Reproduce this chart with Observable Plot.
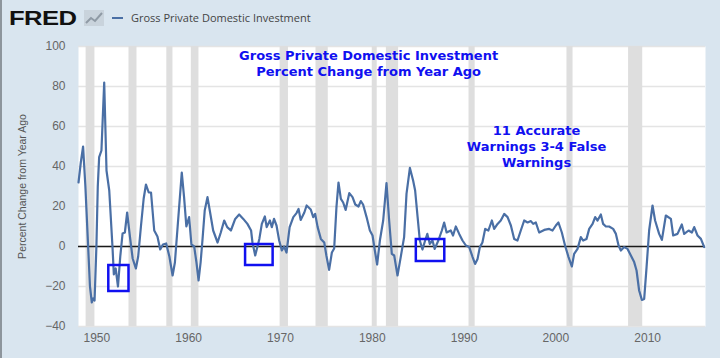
<!DOCTYPE html>
<html>
<head>
<meta charset="utf-8">
<script src="https://cdn.jsdelivr.net/npm/d3@7"></script>
<script src="https://cdn.jsdelivr.net/npm/@observablehq/plot@0.6"></script>
<style>
  html, body { margin: 0; padding: 0; }
  body { width: 720px; height: 358px; background: #d9e5ef; position: relative; overflow: hidden; font-family: "Liberation Sans", Arial, sans-serif; }
  #edge { position: absolute; left: 0; top: 0; width: 2px; height: 358px; background: #8d959c; }
  #header { position: relative; height: 36px; }
  #logo { position: absolute; left: 9px; top: 6px; font: 900 21px "Liberation Sans", Arial, sans-serif; color: #111; transform: scaleX(1.22); transform-origin: left top; letter-spacing: -0.5px; }
  #icon { position: absolute; left: 84px; top: 10px; }
  #legline { position: absolute; left: 112px; top: 17px; width: 11px; height: 2px; background: #4a6fa5; }
  #legtext { position: absolute; left: 131px; top: 10px; font: 11px "Open Sans", sans-serif; color: #444; }
  #chart { position: absolute; left: 0; top: 36px; }
</style>
</head>
<body>
<div id="edge"></div>
<div id="header">
  <div id="logo">FRED</div>
  <svg id="icon" width="20" height="16"><rect x="0" y="0" width="20" height="16" fill="#c9d3dc"/><polyline points="2,13 7,8 11,11 18,3" fill="none" stroke="#8f9aa5" stroke-width="2"/></svg>
  <div id="legline"></div>
  <div id="legtext">Gross Private Domestic Investment</div>
</div>
<div id="chart"></div>
<script>
// ---- data ----
const years = [1948.0,1948.25,1948.5,1948.75,1949.0,1949.25,1949.45,1949.6,1949.75,1949.95,1950.1,1950.25,1950.5,1950.8,1951.05,1951.35,1951.7,1951.85,1952.05,1952.3,1952.55,1952.8,1953.05,1953.3,1953.6,1953.9,1954.25,1954.5,1954.8,1955.1,1955.35,1955.65,1955.9,1956.25,1956.6,1956.9,1957.2,1957.55,1957.9,1958.25,1958.5,1958.8,1959.0,1959.25,1959.5,1959.75,1960.05,1960.3,1960.6,1960.85,1961.08,1961.3,1961.5,1961.75,1962.05,1962.3,1962.67,1963.15,1963.5,1963.87,1964.2,1964.6,1965.07,1965.5,1965.95,1966.4,1966.8,1966.95,1967.25,1967.7,1967.97,1968.3,1968.5,1968.85,1969.06,1969.3,1969.57,1969.86,1970.15,1970.4,1970.66,1971.0,1971.4,1971.75,1971.97,1972.2,1972.6,1972.85,1973.3,1973.57,1973.78,1974.05,1974.4,1974.77,1975.0,1975.3,1975.6,1975.85,1976.1,1976.32,1976.58,1976.83,1977.1,1977.5,1977.85,1978.15,1978.5,1978.75,1979.0,1979.38,1979.74,1980.03,1980.28,1980.53,1980.83,1981.19,1981.55,1981.84,1982.13,1982.39,1982.75,1983.1,1983.47,1983.73,1984.1,1984.45,1984.67,1984.94,1985.18,1985.47,1985.76,1986.0,1986.27,1986.56,1986.8,1987.2,1987.58,1987.83,1988.1,1988.55,1988.8,1989.1,1989.47,1989.83,1990.2,1990.56,1990.93,1991.2,1991.47,1991.72,1992.0,1992.3,1992.65,1993.03,1993.28,1993.65,1994.0,1994.37,1994.74,1995.1,1995.46,1995.82,1996.18,1996.55,1996.92,1997.28,1997.53,1997.82,1998.18,1998.73,1999.27,1999.64,2000.0,2000.28,2000.65,2001.0,2001.38,2001.74,2001.99,2002.36,2002.72,2002.97,2003.34,2003.63,2004.0,2004.28,2004.54,2004.9,2005.15,2005.45,2005.8,2006.24,2006.54,2006.83,2007.08,2007.44,2007.81,2008.17,2008.53,2008.79,2009.07,2009.37,2009.62,2009.88,2010.16,2010.53,2010.81,2011.25,2011.55,2011.98,2012.53,2012.78,2013.25,2013.72,2013.98,2014.46,2014.82,2015.07,2015.43,2015.8,2016.16];
const values = [32,42,50,30,5,-20,-28,-26,-27,0,30,44.7,48,82,38,28,0,-14,-11,-20,-5,6.5,7,17,5,-6,-11,-5,10,24,31,27,27,8,5,-1.5,1,1.5,-5,-14.5,-8,10,22,37,24.7,10,14.7,1,0,-8,-17,-8,3,18,24.7,18,8,2,7,13,9.7,8,13.8,16,13.8,11.3,8,2,-4.5,3.8,11.3,15,9.7,13,9.7,13.8,10.5,3,-2,0,-3,9.7,14.7,16.7,18.8,13.3,17,20.5,18.5,14.7,16.3,9.7,3.8,2,-4.5,-11.7,-3,-1,19.7,32,23.8,22,18.3,26.7,24.7,21,20,22.7,21,14.7,8,5.5,-2,-9,3,13,31.7,13,-3.7,-4.5,-14.5,-5.3,4.7,26.3,39.3,33,28,14.7,3,-1.5,3,6.3,1.3,3,-1.2,3,8,12,7,8,5.5,10,6.3,3,0.5,-0.3,-5.3,-8.7,-6.2,-0.3,2,8.8,8,13,8.8,11.3,13,16.3,14.7,10.5,3.8,3,8,13,12,12.7,11.3,12,7,8.3,8.8,8,10.5,12,7,0.5,-5.3,-10,-3.7,-1.2,4.7,3,3.8,8.8,11.3,14.7,13,16,11.3,10,10,8.8,6.3,0.5,-2,-0.3,-1.2,-4.5,-7.8,-12,-22,-26.7,-26.2,-10.3,8,20.5,13,6.3,3.3,15.5,13.8,5.5,6.3,11,6.3,8,7,9.7,5.5,3.8,-0.3];
const recessionStart = [1948.83,1953.5,1957.62,1960.29,1969.96,1973.87,1980.0,1981.54,1990.54,2001.21,2007.92];
const recessionEnd   = [1949.79,1954.37,1958.29,1961.12,1970.87,1975.21,1980.54,1982.87,1991.21,2001.87,2009.46];
const boxX1 = [1951.3, 1966.2, 1984.8];
const boxX2 = [1953.5, 1969.2, 1987.9];
const boxY1 = [-9.5, 1, 3.5];
const boxY2 = [-22.5, -9.5, -7.5];
const xTicks = [1950, 1960, 1970, 1980, 1990, 2000, 2010];
const yTicks = [-40, -20, 0, 20, 40, 60, 80, 100];
const titleLines = ["Gross Private Domestic Investment", "Percent Change from Year Ago"];
const titleX = [1979.6, 1979.6];
const titleY = [95.5, 87.5];
const noteLines = ["11 Accurate", "Warnings 3-4 False", "Warnings"];
const noteX = [1997.9, 1997.9, 1997.9];
const noteY = [58, 49.6, 41.6];
const yLabel = "Percent Change from Year Ago";

const series = years.map((x, i) => ({x, y: values[i]}));
const recessions = recessionStart.map((s, i) => ({s, e: recessionEnd[i]}));
const boxes = boxX1.map((x1, i) => ({x1, x2: boxX2[i], y1: boxY1[i], y2: boxY2[i]}));
const titles = titleLines.map((t, i) => ({t, x: titleX[i], y: titleY[i]}));
const notes = noteLines.map((t, i) => ({t, x: noteX[i], y: noteY[i]}));

const blue = "#1010f0";
const chart = Plot.plot({
  width: 720,
  height: 322,
  marginTop: 10,
  marginBottom: 32,
  marginLeft: 78,
  marginRight: 15,
  style: {background: "transparent", fontFamily: "'Liberation Sans', Arial, sans-serif", fontSize: "12px", color: "#666"},
  x: {domain: [1948, 2016.3], ticks: xTicks, tickFormat: d => String(d), label: null, tickSize: 0, tickPadding: 7},
  y: {domain: [-40, 100], ticks: yTicks, label: null, tickSize: 0, tickPadding: 13},
  marks: [
    Plot.frame({fill: "white", stroke: "none"}),
    Plot.gridY(yTicks, {stroke: "#e4e4e4", strokeOpacity: 1, strokeWidth: 1.5}),
    Plot.rect(recessions, {x1: "s", x2: "e", fill: "#dedede"}),
    Plot.ruleY([0], {stroke: "#1a1a1a", strokeWidth: 1.6}),
    Plot.line(series, {x: "x", y: "y", stroke: "#4a6fa5", strokeWidth: 2.2, curve: "linear"}),
    Plot.rect(boxes, {x1: "x1", x2: "x2", y1: "y1", y2: "y2", fill: "none", stroke: blue, strokeWidth: 2.5}),
    Plot.text(titles, {x: "x", y: "y", text: "t", fill: blue, fontWeight: "bold", fontSize: 13, fontFamily: "'DejaVu Sans', sans-serif"}),
    Plot.text(notes, {x: "x", y: "y", text: "t", fill: blue, fontWeight: "bold", fontSize: 13, fontFamily: "'DejaVu Sans', sans-serif"}),
    Plot.text([yLabel], {frameAnchor: "left", textAnchor: "middle", dx: -56, rotate: -90, fill: "#555", fontSize: 10.5})
  ]
});
document.getElementById("chart").appendChild(chart);
</script>
</body>
</html>
